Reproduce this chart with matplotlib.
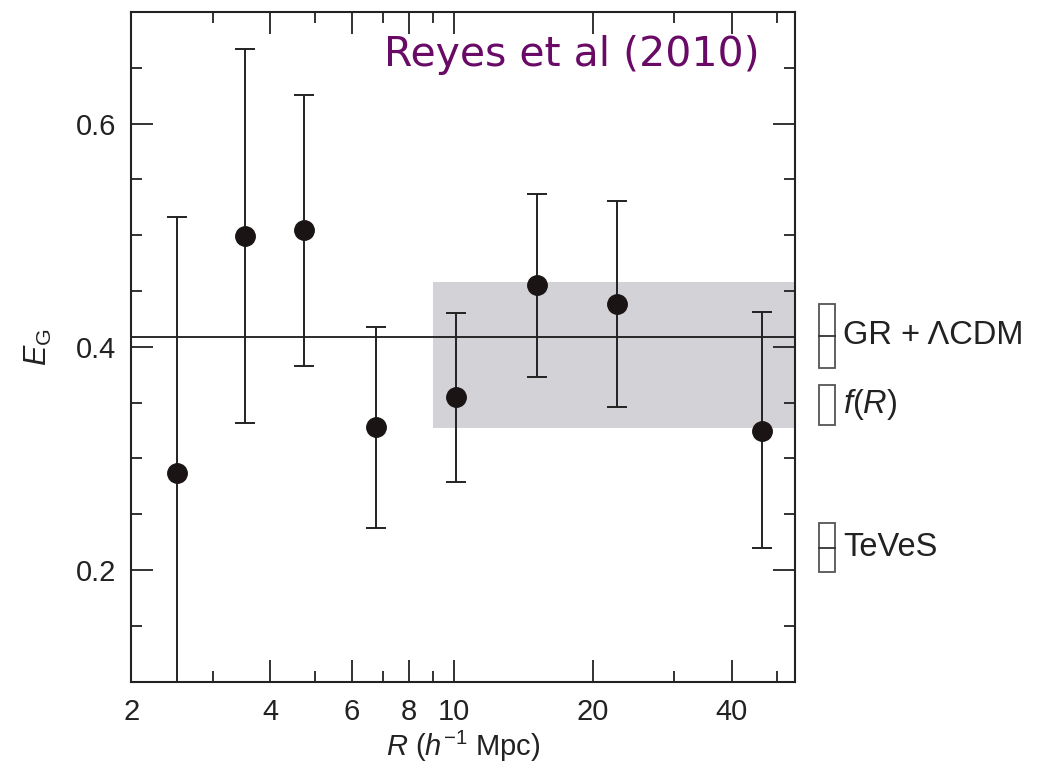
#E_G measurement plot (Reyes et al 2010 style)
import matplotlib
matplotlib.use('Agg')
import matplotlib.pyplot as plt
import matplotlib.patches as mpatches
from matplotlib.ticker import FixedLocator, NullFormatter, MultipleLocator

plt.rcParams['font.family'] = ['Liberation Sans', 'DejaVu Sans']
plt.rcParams['mathtext.fontset'] = 'custom'
plt.rcParams['mathtext.rm'] = 'Liberation Sans'
plt.rcParams['mathtext.it'] = 'Liberation Sans:italic'

#the data
r_mpc = [2.51, 3.52, 4.74, 6.78, 10.1, 15.1, 22.5, 46.5]
eg = [0.287, 0.499, 0.505, 0.328, 0.355, 0.455, 0.438, 0.325]
eg_hi = [0.516, 0.667, 0.626, 0.418, 0.430, 0.537, 0.531, 0.431]
eg_lo = [0.05, 0.332, 0.383, 0.238, 0.279, 0.373, 0.346, 0.220]

gr_value = 0.409
band_r = [9.0, 55.0]
band_lo, band_hi = 0.327, 0.458

#theory predictions drawn as boxes on the right
model_names = ['GR + ΛCDM', '$f(R)$', 'TeVeS']
model_lo = [0.381, 0.330, 0.198]
model_hi = [0.4385, 0.366, 0.2425]
model_mid = [0.4097, None, 0.220]

x_major = [2, 4, 6, 8, 10, 20, 40]
x_minor = [3, 5, 7, 9, 30, 50]

fig = plt.figure(figsize=(10.37, 7.72), dpi=100)
ax = fig.add_axes([0.1268, 0.117, 0.6398, 0.8675])

ax.fill_between(band_r, band_lo, band_hi, color='#d2d2d7', lw=0, zorder=1)
ax.axhline(gr_value, color='#1a1a1a', lw=1.3, zorder=2)

yerr = [[v - lo for v, lo in zip(eg, eg_lo)], [hi - v for v, hi in zip(eg, eg_hi)]]
ax.errorbar(r_mpc, eg, yerr=yerr, fmt='o', color='#222222', ecolor='#222222',
            elinewidth=1.4, capsize=7, capthick=1.4, markersize=14,
            markerfacecolor='#1a1414', markeredgecolor='#1a1414', zorder=3)

ax.set_xscale('log')
ax.set_xlim(2, 54.8)
ax.set_ylim(0.1, 0.7)
ax.xaxis.set_major_locator(FixedLocator(x_major))
ax.xaxis.set_minor_locator(FixedLocator(x_minor))
ax.set_xticklabels([str(v) for v in x_major])
ax.xaxis.set_minor_formatter(NullFormatter())
ax.yaxis.set_major_locator(FixedLocator([0.2, 0.4, 0.6]))
ax.yaxis.set_minor_locator(MultipleLocator(0.05))
ax.set_yticklabels(['0.2', '0.4', '0.6'])

ax.tick_params(which='both', direction='in', top=True, right=True, width=1.3, color='#222222')
ax.tick_params(which='major', length=16, labelsize=21, pad=11, labelcolor='#222222')
ax.tick_params(axis='x', which='major', pad=12)
ax.tick_params(which='minor', length=8)
for s in ax.spines.values():
    s.set_linewidth(1.5)
    s.set_color('#222222')

ax.set_xlabel('$R$ ($h^{-1}$ Mpc)', fontsize=21, color='#222222', labelpad=2)
ax.set_ylabel(r'$E_{\mathrm{G}}$', fontsize=22, color='#222222', labelpad=16)

#model boxes outside the axes
trans = ax.get_yaxis_transform()
for name, lo, hi, mid in zip(model_names, model_lo, model_hi, model_mid):
    box = mpatches.Rectangle((1.036, lo), 0.024, hi - lo, transform=trans, clip_on=False,
                             facecolor='white', edgecolor='#555555', lw=1.3)
    ax.add_patch(box)
    if mid is not None:
        ax.plot([1.036, 1.060], [mid, mid], transform=trans, clip_on=False, color='#333333', lw=1.3)
    ax.text(1.073, (lo + hi) / 2, name, transform=trans, fontsize=23.5, va='center', ha='left',
            color='#222222')

ax.text(0.664, 0.936, 'Reyes et al (2010)', transform=ax.transAxes, fontsize=29.5,
        family='DejaVu Sans', color='#690a66', ha='center', va='center')

fig.savefig('out.png', dpi=100)
